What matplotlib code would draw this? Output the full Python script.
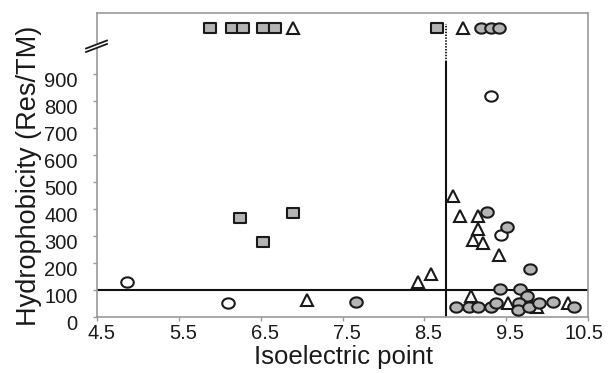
import numpy as np
import matplotlib
matplotlib.use("Agg")
import matplotlib.pyplot as plt
from matplotlib.path import Path
import matplotlib.transforms as mtrans
from matplotlib.lines import Line2D

plt.rcParams['font.family'] = ['Liberation Sans', 'DejaVu Sans']

# ---------------- data ----------------
square_x = [6.25, 6.53, 6.90]
square_y = [367, 278, 385]

triangle_x = [7.07, 8.42, 8.58, 8.85, 8.93, 9.15, 9.15, 9.09, 9.22, 9.41,
              9.07, 9.52, 9.79, 9.88, 10.25]
triangle_y = [63, 130, 159, 448, 374, 374, 326, 285, 274, 230,
              78, 53, 53, 38, 53]

gray_circle_x = [7.67, 9.27, 9.51, 9.79, 9.42, 9.67, 9.75, 8.89, 9.04, 9.16,
                 9.31, 9.37, 9.66, 9.64, 9.78, 9.90, 10.07, 10.33]
gray_circle_y = [56, 389, 333, 178, 104, 104, 78, 37, 37, 37,
                 37, 52, 52, 26, 37, 52, 56, 37]

open_circle_x = [4.87, 6.10, 9.31, 9.44]
open_circle_y = [130, 52, 819, 304]

# off-scale values (shown above the axis break)
offscale_square_x = [5.88, 6.15, 6.29, 6.53, 6.67, 8.66]
offscale_triangle_x = [6.90, 8.97]
offscale_circle_x = [9.19, 9.31, 9.41]

x_ticks = [4.5, 5.5, 6.5, 7.5, 8.5, 9.5, 10.5]
y_ticks = [0, 100, 200, 300, 400, 500, 600, 700, 800, 900]
hydro_threshold = 100
pi_threshold = 8.76

xlabel = "Isoelectric point"
ylabel = "Hydrophobicity (Res/TM)"

# ---------------- style ----------------
W, H = 608, 373
fig = plt.figure(figsize=(W / 100, H / 100), dpi=100)
ax = fig.add_axes([97 / W, 1 - 317 / H, 491 / W, 304 / H])

OFFSCALE_Y = 1070
YTOP = 1126
BREAK_Y = 944

ax.set_xlim(4.5, 10.5)
ax.set_ylim(0, YTOP)

t = np.linspace(0, 2 * np.pi, 60)
ellipse = Path(np.column_stack([np.cos(t), 0.82 * np.sin(t)]), closed=True)
rect = Path([(-1, -0.85), (1, -0.85), (1, 0.85), (-1, 0.85), (-1, -0.85)], closed=True)

gray = '#b4b4b4'
edge = '#1a1a1a'
mew = 1.5

def plot_set(x, y, marker, face, ms):
    ax.plot(x, y, linestyle='none', marker=marker, ms=ms, mfc=face,
            mec=edge, mew=mew, zorder=4, clip_on=False)

# reference lines
ax.axhline(hydro_threshold, color='#111111', lw=1.5, zorder=2)
ax.plot([pi_threshold, pi_threshold], [0, BREAK_Y], color='#111111', lw=1.5, zorder=2)
ax.plot([pi_threshold, pi_threshold], [BREAK_Y, 1085], color='#111111', lw=1.3,
        linestyle=(0, (0.8, 0.8)), zorder=2)

plot_set(square_x, square_y, rect, gray, 8.5)
plot_set(open_circle_x, open_circle_y, ellipse, 'white', 9)
plot_set(triangle_x, triangle_y, '^', 'white', 8)
plot_set(gray_circle_x, gray_circle_y, ellipse, gray, 9)

ys = [OFFSCALE_Y] * len(offscale_square_x)
plot_set(offscale_square_x, ys, rect, gray, 8.5)
plot_set(offscale_triangle_x, [OFFSCALE_Y] * len(offscale_triangle_x), '^', 'white', 8)
plot_set(offscale_circle_x, [OFFSCALE_Y] * len(offscale_circle_x), ellipse, gray, 9)

# spines
for s in ax.spines.values():
    s.set_color('#9a9a9a')
    s.set_linewidth(1.2)

ax.set_xticks(x_ticks)
ax.set_xticklabels([str(v) for v in x_ticks])
ax.set_yticks(y_ticks)
ax.set_yticklabels([str(v) for v in y_ticks])
ax.tick_params(axis='both', colors='#9a9a9a', labelcolor='#1a1a1a',
               labelsize=14.5, length=3, width=1, direction='out')
ax.tick_params(axis='x', pad=2)
ax.tick_params(axis='y', pad=11)

xlabs = ax.get_xticklabels()
for i, lab in enumerate(xlabs):
    dx = 4 if i < len(xlabs) - 1 else -4
    lab.set_transform(lab.get_transform() +
                      mtrans.ScaledTranslation(dx / 100, 0, fig.dpi_scale_trans))
for lab in ax.get_yticklabels():
    lab.set_transform(lab.get_transform() +
                      mtrans.ScaledTranslation(0, -5 / 100, fig.dpi_scale_trans))

fig.text(343 / W, 1 - 357 / H, xlabel, fontsize=18.5, ha='center', va='center',
         color='#1a1a1a')
fig.text(29 / W, 1 - 176 / H, ylabel, fontsize=19.5, ha='center', va='center',
         rotation=90, color='#1a1a1a')

# axis break mark
def fx(px):
    return px / W

def fy(py):
    return 1 - py / H

fig.add_artist(Line2D([fx(86), fx(107)], [fy(50), fy(42)], color='white', lw=3.5,
                      transform=fig.transFigure, zorder=5))
fig.add_artist(Line2D([fx(86), fx(107)], [fy(52), fy(44)], color='#1a1a1a', lw=1.3,
                      transform=fig.transFigure, zorder=6))
fig.add_artist(Line2D([fx(86), fx(107)], [fy(48.5), fy(40.5)], color='#1a1a1a', lw=1.3,
                      transform=fig.transFigure, zorder=6))

fig.savefig("out.png", dpi=100)
